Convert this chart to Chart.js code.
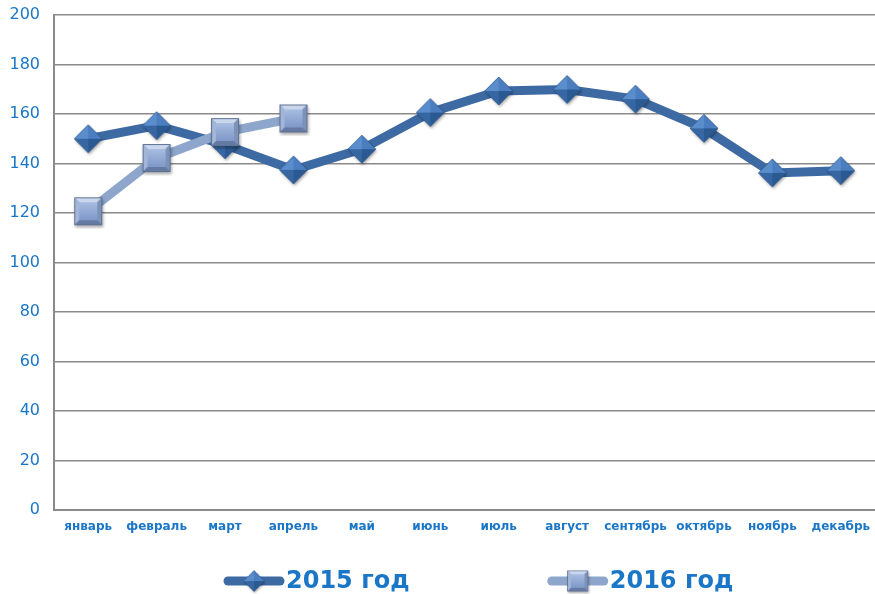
<!DOCTYPE html>
<html>
<head>
<meta charset="utf-8">
<script src="https://cdn.jsdelivr.net/npm/chart.js@4.4.1/dist/chart.umd.min.js"></script>
<style>
html,body{margin:0;padding:0;background:#fff;}
#wrap{width:875px;height:594px;}
</style>
</head>
<body>
<div id="wrap"><canvas id="c" width="875" height="594"></canvas></div>
<script>
const months = ['январь','февраль','март','апрель','май','июнь','июль','август','сентябрь','октябрь','ноябрь','декабрь'];
const values2015 = [150, 155.3, 147.6, 137.4, 145.8, 160.6, 169.3, 169.9, 166, 154.2, 136.2, 137.1];
const values2016 = [120.7, 142.2, 152.7, 158.2];
const seriesNames = ['2015 год', '2016 год'];
const yTicks = [0, 20, 40, 60, 80, 100, 120, 140, 160, 180, 200];

const blue = '#1a76c6';

function withShadow(g, draw){
  g.save();
  g.shadowColor='rgba(0,0,0,0.35)';g.shadowBlur=3;g.shadowOffsetX=1;g.shadowOffsetY=2;
  draw(true);
  g.restore();
  draw(false);
}
function diamondImage(){
  const s = 36, c = document.createElement('canvas');
  c.width = s; c.height = s;
  const g = c.getContext('2d');
  const m = s/2, r = 14;
  const T=[m,m-r], R=[m+r,m], B=[m,m+r], L=[m-r,m], C=[m,m];
  function outline(){g.beginPath();g.moveTo(T[0],T[1]);g.lineTo(R[0],R[1]);g.lineTo(B[0],B[1]);g.lineTo(L[0],L[1]);g.closePath();}
  g.save();g.shadowColor='rgba(0,0,0,0.35)';g.shadowBlur=3;g.shadowOffsetX=1;g.shadowOffsetY=2;
  outline();g.fillStyle='#3767a3';g.fill();g.restore();
  function tri(a,b,col){g.beginPath();g.moveTo(a[0],a[1]);g.lineTo(b[0],b[1]);g.lineTo(C[0],C[1]);g.closePath();g.fillStyle=col;g.fill();}
  tri(L,T,'#5a8dcb');
  tri(T,R,'#4a7ec0');
  tri(R,B,'#2b5a93');
  tri(B,L,'#3767a3');
  outline();g.strokeStyle='rgba(40,80,130,0.6)';g.lineWidth=1;g.stroke();
  return c;
}
function squareImage(){
  const s = 36, c = document.createElement('canvas');
  c.width = s; c.height = s;
  const g = c.getContext('2d');
  const o = 4, e = 32, i = 9, j = 27;
  g.save();g.shadowColor='rgba(0,0,0,0.35)';g.shadowBlur=3;g.shadowOffsetX=1;g.shadowOffsetY=2;
  g.fillStyle='#7d92b9';g.fillRect(o,o,e-o,e-o);g.restore();
  function quad(p,col){g.beginPath();g.moveTo(p[0][0],p[0][1]);for(let k=1;k<p.length;k++)g.lineTo(p[k][0],p[k][1]);g.closePath();g.fillStyle=col;g.fill();}
  quad([[o,o],[e,o],[j,i],[i,i]],'#c9d6ec');
  quad([[o,o],[i,i],[i,j],[o,e]],'#a3b6d8');
  quad([[e,o],[e,e],[j,j],[j,i]],'#7d92b9');
  quad([[o,e],[i,j],[j,j],[e,e]],'#647aa2');
  const gr = g.createLinearGradient(0,i,0,j);
  gr.addColorStop(0,'#a7bce0');gr.addColorStop(1,'#7f98c8');
  g.fillStyle=gr;g.fillRect(i,i,j-i,j-i);
  g.strokeStyle='#5d7193';g.lineWidth=1;g.strokeRect(o+0.5,o+0.5,e-o-1,e-o-1);
  return c;
}
const diamond = diamondImage();
const square = squareImage();

const legendPlugin = {
  id: 'customLegend',
  afterDraw(chart){
    const ctx = chart.ctx;
    const y = 581;
    const items = [
      {x: chart.width*0.256, color:'#3e6aa3', img: diamond, text: seriesNames[0]},
      {x: chart.width*0.626, color:'#8ea5cc', img: square, text: seriesNames[1]}
    ];
    ctx.save();
    items.forEach(it=>{
      ctx.beginPath();
      ctx.lineCap='round';
      ctx.lineWidth=9;
      ctx.strokeStyle=it.color;
      ctx.moveTo(it.x+4,y);ctx.lineTo(it.x+56,y);ctx.stroke();
      const sz = 27;
      ctx.drawImage(it.img, it.x+30-sz/2, y-sz/2, sz, sz);
      ctx.fillStyle=blue;
      ctx.font='bold 24px "DejaVu Sans"';
      ctx.textBaseline='middle';
      ctx.textAlign='left';
      ctx.fillText(it.text, it.x+62, y+1);
    });
    ctx.restore();
  }
};

new Chart(document.getElementById('c'), {
  type: 'line',
  data: {
    labels: months,
    datasets: [
      {
        label: seriesNames[0],
        data: values2015,
        borderColor: '#3e6aa3',
        borderWidth: 9,
        pointStyle: diamond,
        pointRadius: 14,
        pointHoverRadius: 14,
        tension: 0,
        order: 2
      },
      {
        label: seriesNames[1],
        data: values2016,
        borderColor: '#8ea5cc',
        borderWidth: 9,
        pointStyle: square,
        pointRadius: 14,
        pointHoverRadius: 14,
        tension: 0,
        order: 1
      }
    ]
  },
  options: {
    responsive: false,
    animation: false,
    layout: {autoPadding: false, padding: {top: 15, right: 0, bottom: 54, left: 0}},
    plugins: {legend: {display: false}, tooltip: {enabled: false}},
    scales: {
      x: {
        offset: true,
        grid: {display: false, drawTicks: false},
        border: {display: true, color: '#8a8a8a', width: 2},
        ticks: {color: blue, font: {family: 'DejaVu Sans', size: 12, weight: 'bold'}, padding: 10, maxRotation: 0, autoSkip: false},
        afterFit(s){ s.height = 30; s.paddingLeft = 0; s.paddingRight = 0; }
      },
      y: {
        min: 0, max: 200,
        afterBuildTicks(s){ s.ticks = yTicks.map(v=>({value:v})); },
        grid: {color: '#8a8a8a', lineWidth: 1.5, drawTicks: false},
        border: {display: true, color: '#8a8a8a', width: 2},
        ticks: {color: blue, font: {family: 'DejaVu Sans', size: 16}, padding: 14},
        afterFit(s){ s.width = 54; s.paddingTop = 0; s.paddingBottom = 0; }
      }
    }
  },
  plugins: [legendPlugin]
});
</script>
</body>
</html>
